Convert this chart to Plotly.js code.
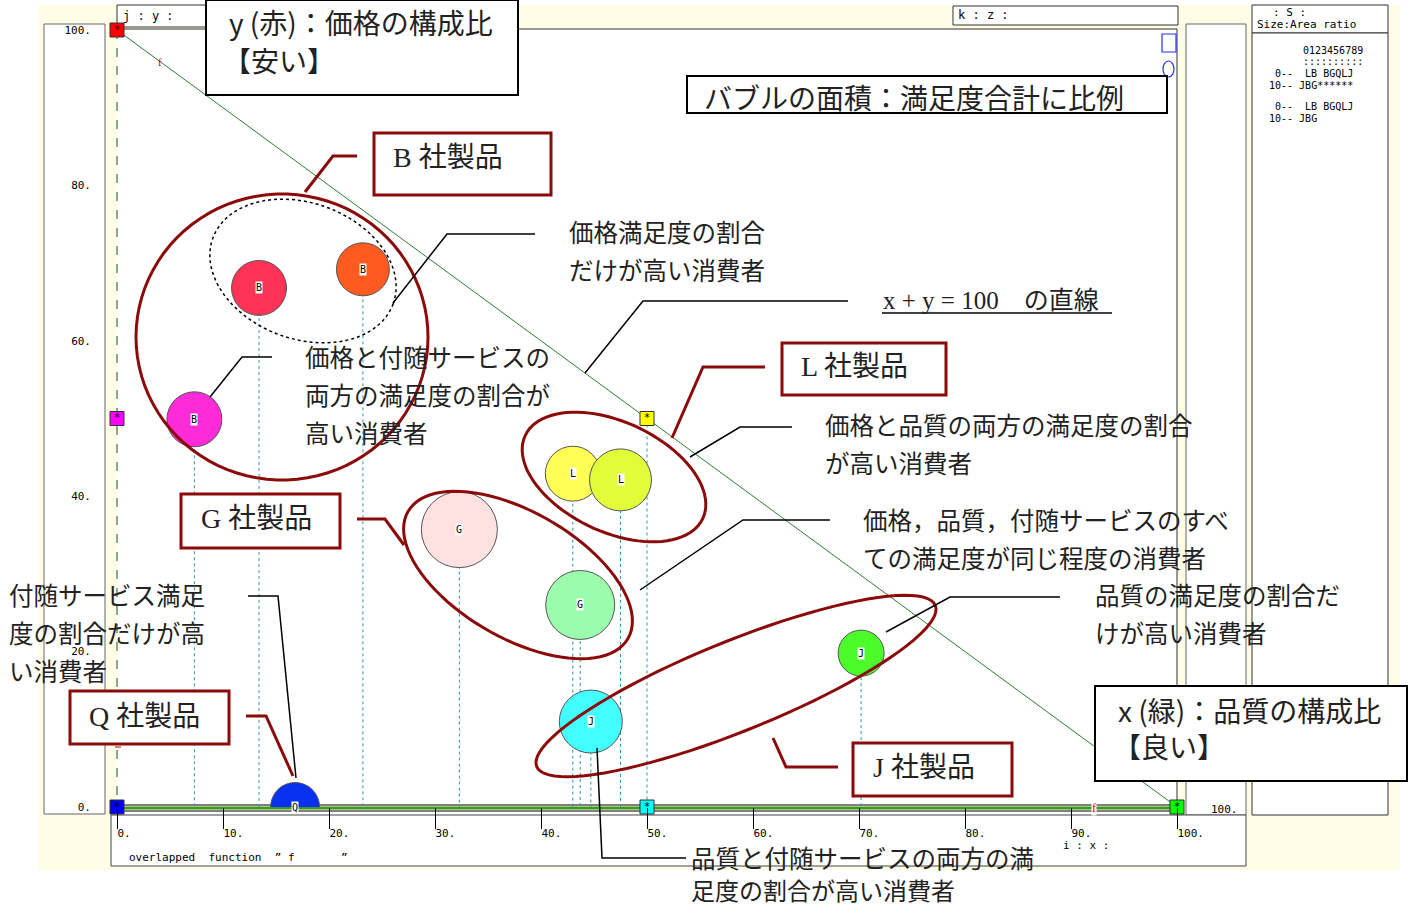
<!DOCTYPE html>
<html>
<head>
<meta charset="utf-8">
<script src="https://cdn.plot.ly/plotly-3.0.1.min.js"></script>
<style>body{margin:0;background:#fff}</style>
</head>
<body>
<div id="chart" style="width:1413px;height:908px"></div>
<script>
// bubbles: company, x = 品質の構成比 (緑), y = 価格の構成比 (赤), area = 満足度合計
var companies = ['B', 'B', 'B', 'G', 'G', 'L', 'L', 'J', 'J', 'Q'];
var quality = [13.4, 23.2, 7.3, 32.3, 43.7, 43.0, 47.5, 44.7, 70.2, 16.8];
var price = [66.8, 69.2, 49.9, 35.7, 26.0, 42.9, 42.1, 11.0, 19.8, 0];
var satisfaction = [302, 281, 302, 578, 476, 302, 384, 397, 212, 240];
var bubbleColors = ['#ff3355', '#ff5a1f', '#ff2ad8', '#ffe1e1', '#9cfcae',
                    '#ffff55', '#e2fc3a', '#44ffff', '#4cfc2a', '#0a30f0'];

// corner / mid reference points (*)
var refX = [0, 0, 0, 50, 50, 100];
var refY = [100, 50, 0, 50, 0, 0];
var refColors = ['#ff0000', '#ff00ff', '#0000ff', '#ffff00', '#00ffff', '#00ff00'];

var xTicks = [0, 10, 20, 30, 40, 50, 60, 70, 80, 90, 100];
var xTickText = ['0.', '10.', '20.', '30.', '40.', '50.', '60.', '70.', '80.', '90.', '100.'];
var yTicks = [0, 20, 40, 60, 80, 100];
var yTickText = ['0.', '20.', '40.', '60.', '80.', '100.'];

// pixel -> paper helpers for the decorations
var L = 117, R = 1177, B0 = 807, T0 = 30;
function X(px) { return (px - L) / (R - L); }
function Y(py) { return (B0 - py) / (B0 - T0); }
function pathOf(pts) {
    return pts.map(function (p, i) {
        return (i ? 'L' : 'M') + X(p[0]).toFixed(5) + ',' + Y(p[1]).toFixed(5);
    }).join(' ');
}
function ellipse(cx, cy, rx, ry, deg) {
    var a = deg * Math.PI / 180, pts = [];
    for (var i = 0; i <= 90; i++) {
        var t = i / 90 * 2 * Math.PI;
        pts.push([cx + rx * Math.cos(t) * Math.cos(a) - ry * Math.sin(t) * Math.sin(a),
                  cy + rx * Math.cos(t) * Math.sin(a) + ry * Math.sin(t) * Math.cos(a)]);
    }
    return pathOf(pts) + ' Z';
}
function box(x0, y0, x1, y1, fill, lc, lw, layer) {
    return {type: 'rect', xref: 'paper', yref: 'paper', x0: X(x0), x1: X(x1), y0: Y(y1), y1: Y(y0),
            fillcolor: fill, line: {color: lc, width: lw}, layer: layer || 'below'};
}
function hline(x0, x1, y, color, width, layer, dash) {
    return {type: 'line', xref: 'paper', yref: 'paper', x0: X(x0), x1: X(x1), y0: Y(y), y1: Y(y),
            line: {color: color, width: width, dash: dash || 'solid'}, layer: layer || 'below'};
}
function vline(x, y0, y1, color, width, layer, dash) {
    return {type: 'line', xref: 'paper', yref: 'paper', x0: X(x), x1: X(x), y0: Y(y0), y1: Y(y1),
            line: {color: color, width: width, dash: dash || 'solid'}, layer: layer || 'below'};
}
function poly(pts, color, width, dash) {
    return {type: 'path', xref: 'paper', yref: 'paper', path: pathOf(pts),
            line: {color: color, width: width, dash: dash || 'solid'}, layer: 'above'};
}
function ring(cx, cy, rx, ry, deg, color, width, dash) {
    return {type: 'path', xref: 'paper', yref: 'paper', path: ellipse(cx, cy, rx, ry, deg),
            line: {color: color, width: width, dash: dash || 'solid'}, layer: 'above'};
}
function txt(px, py, s, size, family, color, extra) {
    var a = {xref: 'paper', yref: 'paper', x: X(px), y: Y(py), text: s, showarrow: false,
             xanchor: 'left', yanchor: 'middle', borderpad: 0,
             font: {size: size, family: family || 'Noto Sans CJK JP', color: color || '#222'}};
    for (var k in extra) a[k] = extra[k];
    return a;
}

var RED = '#8b0a0a';
var JP = 'Noto Sans CJK JP';
var SERIF = 'Liberation Serif, Noto Sans CJK JP';
var MONO = 'DejaVu Sans Mono';
var BODY = 24.5, HEAD = 28;

// traces
var diag = {x: [0, 100], y: [100, 0], mode: 'lines', line: {color: '#2e7d32', width: 1},
            hoverinfo: 'skip'};

var dropX = [], dropY = [];
quality.forEach(function (q, i) { dropX.push(q, q, null); dropY.push(price[i], 0, null); });
refX.forEach(function (q, i) { if (q > 0 && refY[i] > 0) { dropX.push(q, q, null); dropY.push(refY[i], 0, null); } });
var drops = {x: dropX, y: dropY, mode: 'lines', line: {color: '#2b9ca0', width: 1, dash: '3px,3px'},
             hoverinfo: 'skip'};

var bubbles = {
    x: quality, y: price, mode: 'markers', cliponaxis: true,
    marker: {size: satisfaction, sizemode: 'area', sizeref: 0.2, color: bubbleColors,
             opacity: 1, line: {color: '#555', width: 1}},
    hoverinfo: 'skip'
};

var refs = {
    x: refX, y: refY, mode: 'markers+text', cliponaxis: false, text: refX.map(function () { return '*'; }),
    textposition: 'middle center', textfont: {family: MONO, size: 11, color: '#000'},
    marker: {symbol: 'square', size: 14, color: refColors, line: {color: '#333', width: 1}},
    hoverinfo: 'skip'
};

// bubble letters
var annotations = companies.map(function (c, i) {
    return {x: quality[i], y: price[i], text: c, showarrow: false, bgcolor: '#fff', borderpad: 0,
            font: {family: MONO, size: 10, color: '#000'}};
});

annotations = annotations.concat([
    txt(122, 16, 'j\u00a0:\u00a0y\u00a0:', 12, MONO, '#000'),
    txt(957, 15, 'k\u00a0:\u00a0z\u00a0:', 12, MONO, '#000'),
    txt(1272, 12, ':\u00a0S\u00a0:', 11, MONO, '#000'),
    txt(1256, 24, 'Size:Area\u00a0ratio', 11, MONO, '#000'),
    txt(1302, 51, '0123456789', 10, MONO, '#000'),
    txt(1302, 62, '::::::::::', 10, MONO, '#000'),
    txt(1274, 73, '0--\u00a0\u00a0LB\u00a0BGQLJ', 10, MONO, '#000'),
    txt(1268, 85, '10--\u00a0JBG******', 10, MONO, '#000'),
    txt(1274, 107, '0--\u00a0\u00a0LB\u00a0BGQLJ', 10, MONO, '#000'),
    txt(1268, 119, '10--\u00a0JBG', 10, MONO, '#000'),
    txt(1210, 809, '100.', 11, MONO, '#000'),
    txt(128, 857, 'overlapped\u00a0\u00a0function\u00a0\u00a0\u201d\u00a0f\u00a0\u00a0\u00a0\u00a0\u00a0\u00a0\u00a0\u201d', 11, MONO, '#000'),
    txt(1062, 845, 'i\u00a0:\u00a0x\u00a0:', 11, MONO, '#000'),
    txt(157, 62, 'f', 11, SERIF, '#d00000'),
    txt(1091, 808, 'f', 12, SERIF, '#d00000', {bgcolor: '#fff'}),

    txt(228, 22, 'y (赤)：価格の構成比', HEAD, JP),
    txt(222, 60, '【安い】', HEAD, JP),
    txt(703, 97, 'バブルの面積：満足度合計に比例', HEAD, JP),
    txt(392, 157, 'B 社製品', HEAD, SERIF),
    txt(568, 232, '価格満足度の割合', BODY, JP),
    txt(568, 269, 'だけが高い消費者', BODY, JP),
    txt(882, 300, 'x + y = 100　の直線', 25, SERIF),
    txt(304, 356, '価格と付随サービスの', BODY, JP),
    txt(304, 394, '両方の満足度の割合が', BODY, JP),
    txt(304, 432, '高い消費者', BODY, JP),
    txt(800, 367, 'L 社製品', HEAD, SERIF),
    txt(824, 425, '価格と品質の両方の満足度の割合', BODY, JP),
    txt(824, 463, 'が高い消費者', BODY, JP),
    txt(200, 518, 'G 社製品', HEAD, SERIF),
    txt(862, 519, '価格，品質，付随サービスのすべ', BODY, JP),
    txt(862, 557, 'ての満足度が同じ程度の消費者', BODY, JP),
    txt(8, 594, '付随サービス満足', BODY, JP),
    txt(8, 632, '度の割合だけが高', BODY, JP),
    txt(8, 670, 'い消費者', BODY, JP),
    txt(88, 716, 'Q 社製品', HEAD, SERIF),
    txt(1094, 594, '品質の満足度の割合だ', BODY, JP),
    txt(1094, 632, 'けが高い消費者', BODY, JP),
    txt(872, 767, 'J 社製品', HEAD, SERIF),
    txt(1117, 710, 'x (緑)：品質の構成比', HEAD, JP),
    txt(1112, 746, '【良い】', HEAD, JP),
    txt(690, 857, '品質と付随サービスの両方の満', BODY, JP),
    txt(690, 889, '足度の割合が高い消費者', 24, JP)
]);

var shapes = [
    // panels
    box(38, 5, 1400, 870, '#fffde6', '#fffde6', 0),
    box(44, 24, 105, 814, '#fff', '#666', 1),
    box(117, 29, 1177, 815, '#fff', '#fff', 0),
    box(117, 5, 210, 27, '#fff', '#333', 1),
    box(953, 6, 1178, 25, '#fff', '#333', 1),
    box(1186, 24, 1246, 815, '#fff', '#666', 1),
    box(1252, 5, 1388, 33, '#fff', '#333', 1),
    box(1252, 33, 1388, 815, '#fff', '#333', 1),
    box(111, 815, 1246, 866, '#fff', '#444', 1),
    hline(117, 1177, 29, '#333', 1),
    vline(1177, 29, 815, '#333', 1),
    // axis lines
    vline(117, 30, 807, '#1f4f1f', 1, 'below', 'dash'),
    hline(117, 1177, 805, '#000', 1),
    hline(117, 1177, 811, '#000', 1),
    hline(117, 1177, 808, '#3c9a14', 3),
    hline(115, 121, 747, '#d00000', 1),

    // blue small legend glyphs
    box(1162, 34, 1176, 52, 'rgba(0,0,0,0)', '#2233ff', 1.2, 'above'),
    {type: 'circle', xref: 'paper', yref: 'paper', x0: X(1163), x1: X(1174), y0: Y(77), y1: Y(61), line: {color: '#2233ff', width: 1.2}, layer: 'above'},

    // callout boxes
    box(206, 0, 518, 95, '#fff', '#000', 2, 'above'),
    box(687, 76, 1167, 113, '#fff', '#000', 2, 'above'),
    box(1095, 686, 1407, 781, '#fff', '#000', 2, 'above'),
    box(374, 133, 551, 195, '#fff', RED, 3, 'above'),
    box(782, 343, 946, 395, '#fff', RED, 3, 'above'),
    box(181, 494, 340, 548, '#fff', RED, 3, 'above'),
    box(70, 691, 229, 744, '#fff', RED, 3, 'above'),
    box(853, 743, 1012, 796, '#fff', RED, 3, 'above'),
    hline(882, 1112, 313, '#000', 1.5, 'above'),

    // group ellipses
    ring(282, 337, 146, 143, 0, RED, 3),
    ring(303, 271, 96, 68, 20, '#000', 1.5, 'dot'),
    ring(614, 477, 98, 55, 25, RED, 3),
    ring(518, 575, 127, 63, 30, RED, 3),
    ring(736, 686, 215, 45, -22, RED, 3),

    // red leaders
    poly([[357, 156], [333, 156], [305, 192]], RED, 3),
    poly([[765, 367], [703, 367], [672, 438]], RED, 3),
    poly([[357, 519], [385, 519], [404, 545]], RED, 3),
    poly([[246, 716], [266, 716], [293, 776]], RED, 3),
    poly([[838, 767], [786, 767], [773, 738]], RED, 3),

    // black leaders
    poly([[535, 234], [447, 234], [393, 303]], '#000', 1.5),
    poly([[848, 301], [643, 301], [585, 373]], '#000', 1.5),
    poly([[272, 357], [242, 357], [210, 397]], '#000', 1.5),
    poly([[792, 427], [740, 427], [690, 457]], '#000', 1.5),
    poly([[830, 520], [743, 520], [640, 590]], '#000', 1.5),
    poly([[1060, 597], [950, 597], [886, 632]], '#000', 1.5),
    poly([[248, 596], [278, 596], [296, 778]], '#000', 1.5),
    poly([[686, 858], [602, 858], [597, 748]], '#000', 1.5)
];

var layout = {
    width: 1413, height: 908,
    margin: {l: L, r: 1413 - R, t: T0, b: 908 - B0},
    paper_bgcolor: '#fff', plot_bgcolor: 'rgba(0,0,0,0)',
    showlegend: false, hovermode: false,
    font: {family: JP, color: '#000'},
    xaxis: {range: [0, 100], tickvals: xTicks, ticktext: xTickText, ticks: 'outside', ticklen: 21,
            tickcolor: '#000', tickwidth: 1, showgrid: false, zeroline: false, showline: false,
            ticklabelposition: 'outside right', ticklabelstandoff: 16,
            tickfont: {family: MONO, size: 11, color: '#000'}},
    yaxis: {range: [0, 100], tickvals: yTicks, ticktext: yTickText, ticks: '', showgrid: false,
            zeroline: false, showline: false, ticklabelstandoff: 25,
            tickfont: {family: MONO, size: 11, color: '#000'}},
    shapes: shapes,
    annotations: annotations
};

Plotly.newPlot('chart', [diag, drops, bubbles, refs], layout, {staticPlot: true});
</script>
</body>
</html>
